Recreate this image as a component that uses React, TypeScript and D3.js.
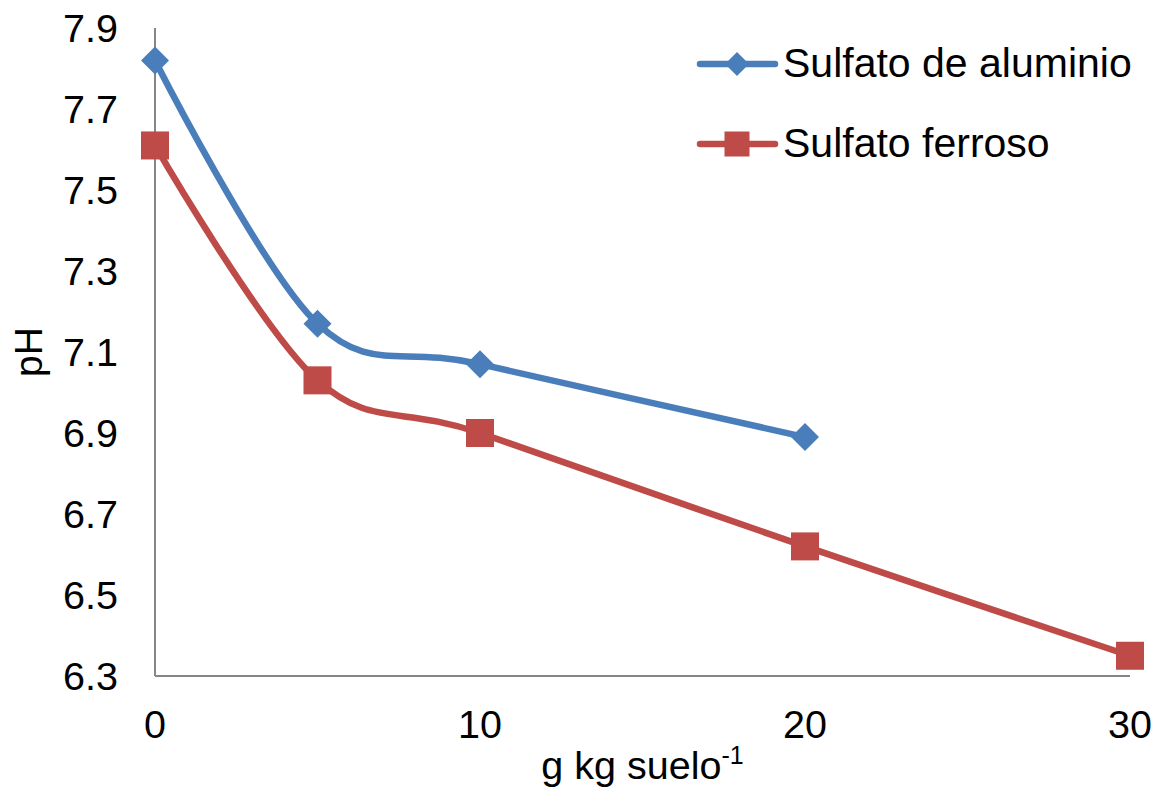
import React from "react";
import * as d3 from "d3";

const xTicks = [0, 10, 20, 30];
const yTicks = [6.3, 6.5, 6.7, 6.9, 7.1, 7.3, 7.5, 7.7, 7.9];

const aluminioX = [0, 5, 10, 20];
const aluminioY = [7.82, 7.17, 7.07, 6.89];
const ferrosoX = [0, 5, 10, 20, 30];
const ferrosoY = [7.61, 7.03, 6.9, 6.62, 6.35];

const seriesNames = ["Sulfato de aluminio", "Sulfato ferroso"];
const colors = ["#4A7EBB", "#BE4B48"];

const W = 1159;
const H = 790;
const font = "'Liberation Sans', Arial, sans-serif";

export default function App() {
  const x = d3.scaleLinear().domain([0, 30]).range([155, 1130]);
  const y = d3.scaleLinear().domain([6.3, 7.9]).range([676, 28]);
  const line = d3
    .line<[number, number]>()
    .x((d) => x(d[0]))
    .y((d) => y(d[1]))
    .curve(d3.curveCardinal.tension(0));

  const alu: [number, number][] = aluminioX.map((v, i) => [v, aluminioY[i]]);
  const fer: [number, number][] = ferrosoX.map((v, i) => [v, ferrosoY[i]]);

  const diamond = (cx: number, cy: number, r: number) =>
    `M${cx},${cy - r}L${cx + r},${cy}L${cx},${cy + r}L${cx - r},${cy}Z`;

  return (
    <svg
      width={W}
      height={H}
      style={{ position: "absolute", left: 0, top: 0, background: "#fff" }}
      fontFamily={font}
    >
      <rect x={0} y={0} width={W} height={H} fill="#fff" />
      {/* axes */}
      <line x1={x(0)} x2={x(0)} y1={y(7.9)} y2={y(6.3)} stroke="#868686" strokeWidth={2} />
      <line x1={x(0)} x2={x(30)} y1={y(6.3)} y2={y(6.3)} stroke="#868686" strokeWidth={2} />
      {yTicks.map((t) => (
        <text
          key={t}
          x={118}
          y={y(t)}
          textAnchor="end"
          dominantBaseline="central"
          fontSize={39.5}
          fill="#000"
        >
          {t.toFixed(1)}
        </text>
      ))}
      {xTicks.map((t) => (
        <text key={t} x={x(t)} y={738} textAnchor="middle" fontSize={39.5} fill="#000">
          {t}
        </text>
      ))}
      <text x={(x(0) + x(30)) / 2} y={779} textAnchor="middle" fontSize={39.5} fill="#000">
        g kg suelo
        <tspan dy={-15} fontSize={25}>-1</tspan>
      </text>
      <text
        transform={`translate(42,${(y(6.3) + y(7.9)) / 2}) rotate(-90)`}
        textAnchor="middle"
        fontSize={39}
        fill="#000"
      >
        pH
      </text>
      {/* lines */}
      <path d={line(alu) || ""} fill="none" stroke={colors[0]} strokeWidth={6.5} strokeLinecap="round" />
      <path d={line(fer) || ""} fill="none" stroke={colors[1]} strokeWidth={6.5} strokeLinecap="round" />
      {alu.map((d, i) => (
        <path key={i} d={diamond(x(d[0]), y(d[1]), 14)} fill={colors[0]} />
      ))}
      {fer.map((d, i) => (
        <rect key={i} x={x(d[0]) - 14} y={y(d[1]) - 14} width={28} height={28} fill={colors[1]} />
      ))}
      {/* legend */}
      {seriesNames.map((name, i) => {
        const ly = 64 + i * 80;
        return (
          <g key={name}>
            <line x1={700} x2={775} y1={ly} y2={ly} stroke={colors[i]} strokeWidth={6.5} strokeLinecap="round" />
            {i === 0 ? (
              <path d={diamond(737, ly, 12)} fill={colors[i]} />
            ) : (
              <rect x={737 - 12.5} y={ly - 12.5} width={25} height={25} fill={colors[i]} />
            )}
            <text x={783} y={ly + 13} fontSize={41} fill="#000">
              {name}
            </text>
          </g>
        );
      })}
    </svg>
  );
}
